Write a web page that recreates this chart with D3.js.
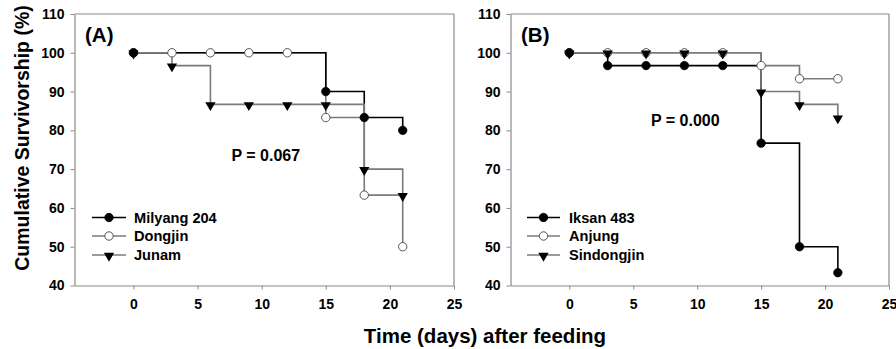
<!DOCTYPE html>
<html><head><meta charset="utf-8">
<script src="https://cdn.jsdelivr.net/npm/d3@7/dist/d3.min.js"></script>
<style>
html,body{margin:0;padding:0;background:#fff;}
text{font-family:"Liberation Sans",Arial,sans-serif;font-weight:bold;fill:#000;}
</style></head>
<body>
<svg id="chart" width="896" height="349"></svg>
<script>
// Data
const days = [0, 3, 6, 9, 12, 15, 18, 21];
const milyang = [100, 100, 100, 100, 100, 90, 83.3, 80];
const dongjin = [100, 100, 100, 100, 100, 83.3, 63.3, 50];
const junam = [100, 96.7, 86.7, 86.7, 86.7, 86.7, 70, 63.3];
const milyangMarks = [1, 0, 0, 0, 0, 1, 1, 1];
const iksan = [100, 96.7, 96.7, 96.7, 96.7, 76.7, 50, 43.3];
const anjung = [100, 100, 100, 100, 100, 96.7, 93.3, 93.3];
const sindongjin = [100, 100, 100, 100, 100, 90, 86.7, 83.3];
const xTicks = [0, 5, 10, 15, 20, 25];
const yTicks = [40, 50, 60, 70, 80, 90, 100, 110];
const panelLabels = ["(A)", "(B)"];
const pValues = ["P = 0.067", "P = 0.000"];
const legendA = ["Milyang 204", "Dongjin", "Junam"];
const legendB = ["Iksan 483", "Anjung", "Sindongjin"];

const svg = d3.select("#chart");
const BLACK = "#000", GRAY = "#7a7a7a", FRAME = "#8a8a8a";

const panels = [
  { left: 74.5, right: 454, label: panelLabels[0], p: pValues[0], pPos: [231.5, 160.5],
    legend: { x0: 92, x1: 126, tx: 134, ys: [217.5, 236, 255] },
    drawOrder: [1, 0, 2],
    series: [
      { name: legendA[0], vals: milyang, marks: milyangMarks, color: BLACK, sym: "filled" },
      { name: legendA[1], vals: dongjin, marks: null, color: GRAY, sym: "open" },
      { name: legendA[2], vals: junam, marks: null, color: GRAY, sym: "tri" }
    ] },
  { left: 510.5, right: 889, label: panelLabels[1], p: pValues[1], pPos: [651, 126],
    legend: { x0: 527, x1: 560, tx: 569, ys: [217.5, 236, 255] },
    drawOrder: [1, 0, 2],
    series: [
      { name: legendB[0], vals: iksan, marks: null, color: BLACK, sym: "filled" },
      { name: legendB[1], vals: anjung, marks: null, color: GRAY, sym: "open" },
      { name: legendB[2], vals: sindongjin, marks: null, color: GRAY, sym: "tri" }
    ] }
];

const plotTop = 14, plotBottom = 285.5;
const y = d3.scaleLinear().domain([40, 110]).range([plotBottom, plotTop]);

function drawSymbol(g, sym, cx, cy) {
  if (sym === "filled") {
    g.append("circle").attr("cx", cx).attr("cy", cy).attr("r", 4.2).attr("fill", "#000").attr("stroke", "#000").attr("stroke-width", 0.8);
  } else if (sym === "open") {
    g.append("circle").attr("cx", cx).attr("cy", cy).attr("r", 4.2).attr("fill", "#fff").attr("stroke", "#555").attr("stroke-width", 1);
  } else {
    const s = d3.symbol().type(d3.symbolTriangle).size(46);
    g.append("path").attr("d", s()).attr("transform", `translate(${cx},${cy + 0.8}) rotate(180)`).attr("fill", "#000");
  }
}

panels.forEach(P => {
  const x = d3.scaleLinear().domain([-4.6, 25]).range([P.left, P.right]);
  const g = svg.append("g");

  g.append("line").attr("x1", P.left).attr("x2", P.right).attr("y1", plotTop).attr("y2", plotTop).attr("stroke", FRAME).attr("stroke-width", 1.2);
  g.append("line").attr("x1", P.right).attr("x2", P.right).attr("y1", plotTop).attr("y2", plotBottom).attr("stroke", FRAME).attr("stroke-width", 1.2);

  const ax = g.append("g").attr("transform", `translate(0,${plotBottom})`)
    .call(d3.axisBottom(x).tickValues(xTicks).tickSize(4).tickSizeOuter(0).tickPadding(10));
  const ay = g.append("g").attr("transform", `translate(${P.left},0)`)
    .call(d3.axisLeft(y).tickValues(yTicks).tickSize(4).tickSizeOuter(0).tickPadding(6));
  [ax, ay].forEach(a => {
    a.select(".domain").attr("stroke", FRAME).attr("stroke-width", 1.2);
    a.selectAll(".tick line").attr("stroke", FRAME).attr("stroke-width", 1);
    a.selectAll(".tick text").style("font-size", "14px").attr("fill", "#000");
  });

  const line = d3.line().x(d => x(d[0])).y(d => y(d[1])).curve(d3.curveStepAfter);
  P.drawOrder.forEach(i => {
    const s = P.series[i];
    const pts = days.map((d, k) => [d, s.vals[k]]);
    g.append("path").attr("d", line(pts)).attr("fill", "none").attr("stroke", s.color).attr("stroke-width", 1.6);
  });
  P.drawOrder.forEach(i => {
    const s = P.series[i];
    days.forEach((d, k) => {
      if (s.marks && !s.marks[k]) return;
      drawSymbol(g, s.sym, x(d), y(s.vals[k]));
    });
  });

  g.append("text").attr("x", P.left + 10.5).attr("y", 41.5).style("font-size", "20.5px").text(P.label);
  g.append("text").attr("x", P.pPos[0]).attr("y", P.pPos[1]).style("font-size", "16px").text(P.p);

  P.series.forEach((s, i) => {
    const ly = P.legend.ys[i];
    g.append("line").attr("x1", P.legend.x0).attr("x2", P.legend.x1).attr("y1", ly).attr("y2", ly).attr("stroke", s.color).attr("stroke-width", 1.6);
    drawSymbol(g, s.sym, (P.legend.x0 + P.legend.x1) / 2, ly);
    g.append("text").attr("x", P.legend.tx).attr("y", ly + 5).style("font-size", "14.6px").text(s.name);
  });
});

svg.append("text").attr("transform", "translate(29,138) rotate(-90)").attr("text-anchor", "middle").style("font-size", "19.5px").text("Cumulative Survivorship (%)");
svg.append("text").attr("x", 485).attr("y", 343).attr("text-anchor", "middle").style("font-size", "20.5px").text("Time (days) after feeding");
</script>
</body></html>
